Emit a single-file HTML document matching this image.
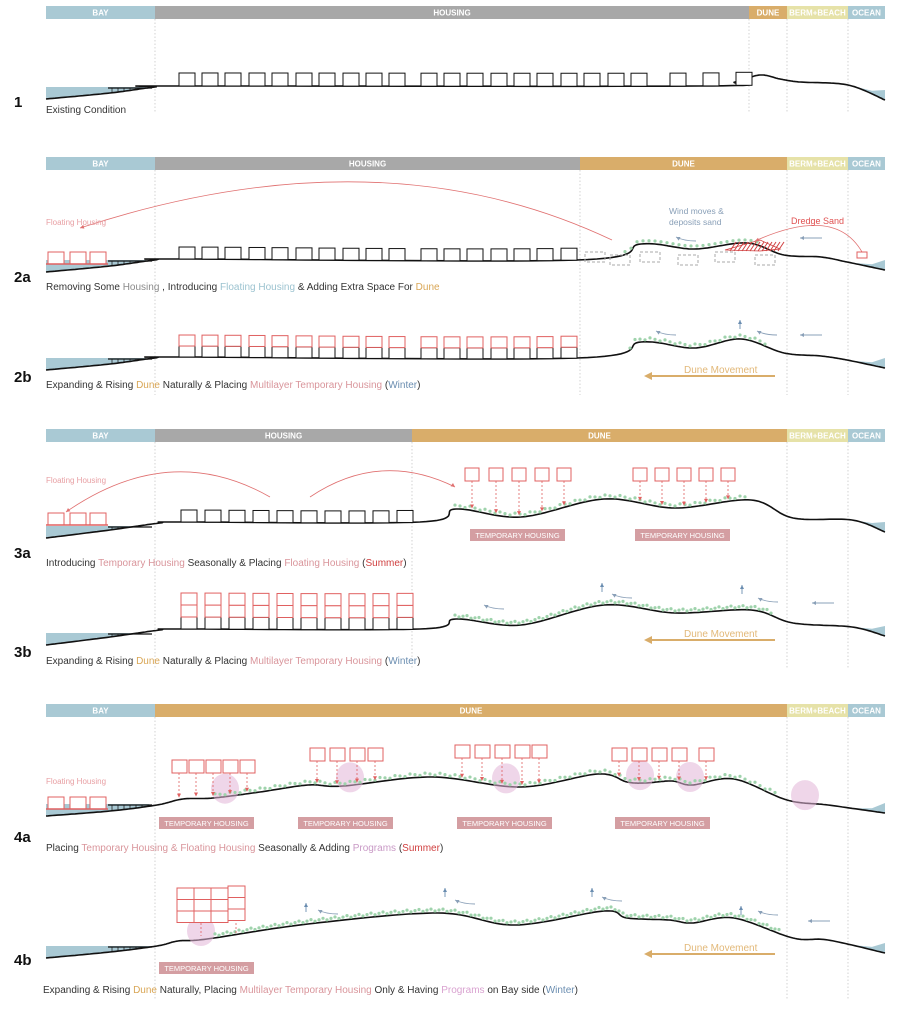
<!DOCTYPE html>
<html><head><meta charset="utf-8">
<style>
body{margin:0;background:#fff;}
svg{display:block;font-family:"Liberation Sans",sans-serif;}
.hd{fill:#fff;font-size:8px;font-weight:bold;text-anchor:middle;}
.cap{font-size:10px;fill:#333;}
.num{font-size:15px;font-weight:bold;fill:#111;}
.tl{fill:#fff;font-size:7.5px;text-anchor:middle;}
</style></head><body>
<svg id="c" width="914" height="1021" viewBox="0 0 914 1021"></svg>
<script>
// profiles: [x, y]
const p1=[[46,99],[110,93],[155,87],[180,86],[700,86],[735,82],[760,75],[780,79],[800,82],[848,85],[885,100]];
const p2a=[[46,272],[110,266],[155,260],[180,259],[577,260],[641,244],[694,249],[747,243],[784,255],[821,257],[847,262],[885,270]];
const p2b=[[46,370],[110,364],[155,358],[180,357],[577,358],[641,342],[694,348],[741,339],[784,353],[821,356],[847,360],[885,368]];
const p3a=[[46,538],[110,530],[160,523],[180,522],[420,522],[456,509],[521,517],[604,499],[675,508],[751,500],[793,518],[852,520],[885,532]];
const p3b=[[46,645],[110,637],[160,630],[180,629],[420,629],[456,619],[521,625],[604,605],[675,613],[751,610],[793,623],[852,627],[885,636]];
const p4a=[[46,816],[110,811],[157,805],[183,799],[213,798],[260,792],[308,785],[343,786],[432,777],[521,787],[598,774],[627,782],[645,783],[672,781],[692,785],[734,779],[787,800],[828,805],[885,813]];
const p4b=[[46,958],[110,952],[157,946],[178,941],[207,939],[308,924],[438,913],[515,925],[604,911],[627,918],[669,920],[692,923],[734,918],[793,938],[828,940],[885,953]];
// zone headers: [label, x0, x1, color]
const hdr1=[["BAY",46,155,"#a9c9d4"],["HOUSING",155,749,"#a8a8a8"],["DUNE",749,787,"#d9ad6a"],["BERM+BEACH",787,848,"#e6e2a8"],["OCEAN",848,885,"#a9c9d4"]];
const hdr2=[["BAY",46,155,"#a9c9d4"],["HOUSING",155,580,"#a8a8a8"],["DUNE",580,787,"#d9ad6a"],["BERM+BEACH",787,848,"#e6e2a8"],["OCEAN",848,885,"#a9c9d4"]];
const hdr3=[["BAY",46,155,"#a9c9d4"],["HOUSING",155,412,"#a8a8a8"],["DUNE",412,787,"#d9ad6a"],["BERM+BEACH",787,848,"#e6e2a8"],["OCEAN",848,885,"#a9c9d4"]];
const hdr4=[["BAY",46,155,"#a9c9d4"],["DUNE",155,787,"#d9ad6a"],["BERM+BEACH",787,848,"#e6e2a8"],["OCEAN",848,885,"#a9c9d4"]];
// house x positions
const houses1=[179,202,225,249,272,296,319,343,366,389,421,444,467,491,514,537,561,584,608,631,670,703,736];
const houses2=[179,202,225,249,272,296,319,343,366,389,421,444,467,491,514,537,561];
const ghost2=[585,610,640,678,715,755];
const houses3=[181,205,229,253,277,301,325,349,373,397];
const temp3=[465,489,512,535,557,633,655,677,699,721];
const temp4=[172,189,206,223,240,310,330,350,368,455,475,495,515,532,612,632,652,672,699];
const tempY4=[760,760,760,760,760,748,748,748,748,745,745,745,745,745,748,748,748,748,748];
const circles4=[225,350,506,640,690,805];

const S="http://www.w3.org/2000/svg", svg=document.getElementById('c');
function el(t,a,p){const e=document.createElementNS(S,t);for(const k in a)e.setAttribute(k,a[k]);(p||svg).appendChild(e);return e;}
function spline(pts){const out=[];for(let i=0;i<pts.length-1;i++){const p0=pts[Math.max(0,i-1)],p1_=pts[i],p2=pts[i+1],p3=pts[Math.min(pts.length-1,i+2)];
 for(let t=0;t<1;t+=0.05){const t2=t*t,t3=t2*t;
 const f=(a,b,c,d)=>0.5*((2*b)+(-a+c)*t+(2*a-5*b+4*c-d)*t2+(-a+3*b-3*c+d)*t3);
 out.push([f(p0[0],p1_[0],p2[0],p3[0]),f(p0[1],p1_[1],p2[1],p3[1])]);}}
 out.push(pts[pts.length-1]);return out;}
function yAt(s,x){for(let i=0;i<s.length-1;i++){if(s[i][0]<=x&&s[i+1][0]>=x){const r=(x-s[i][0])/((s[i+1][0]-s[i][0])||1);return s[i][1]+r*(s[i+1][1]-s[i][1]);}}return s[s.length-1][1];}
function ptsStr(a){return a.map(p=>p[0].toFixed(1)+","+p[1].toFixed(1)).join(" ");}

function header(h,y){h.forEach(z=>{
 const r=el('rect',{x:z[1],y:y,width:z[2]-z[1],height:13,fill:z[3]});
 
 
 const t=el('text',{x:(z[1]+z[2])/2,y:y+9.5,class:'hd'});t.textContent=z[0];
 
 });}
function dividers(xs,y0,y1){xs.forEach(x=>{const l=el('line',{x1:x,y1:y0,x2:x,y2:y1,stroke:'#c8c8c8','stroke-width':0.8,'stroke-dasharray':'1.5,2'});
 
 });}
function ground(p,name){
 const s=spline(p);
 const g0=s[0][1], wl=g0-12;
 const bay=s.filter(q=>q[0]<=150&&q[1]>=wl+1);
 const w=el('polygon',{points:ptsStr([[46,wl]].concat(bay).concat([[bay[bay.length-1][0],wl]])),fill:'#a9c9d4'});
 
 
 const oc=s.filter(q=>q[0]>=850);
 const oy=yAt(s,885);
 const o=el('polygon',{points:ptsStr(oc.concat([[885,oy-10],[872,yAt(s,872)-3]])),fill:'#a9c9d4'});
 
 
 const py=wl+1;
 el('line',{x1:108,y1:py,x2:152,y2:py,stroke:'#111','stroke-width':1.2});
 for(let x=112;x<150;x+=6)el('line',{x1:x,y1:py,x2:x,y2:Math.max(py,Math.min(yAt(s,x),py+5)),stroke:'#111','stroke-width':0.7});
 const l=el('polyline',{points:ptsStr(s),fill:'none',stroke:'#111','stroke-width':1.6});
 
 
 return s;}
function house(x,y,w,h,col,name){const r=el('rect',{x:x,y:y,width:w,height:h,fill:'#fff',stroke:col,'stroke-width':1});
 
 return r;}
function grass(s,x0,x1,dense){for(let x=x0;x<x1;x+=dense){const y=yAt(s,x);
 const c=el('circle',{cx:x,cy:y-2-((x*7)%3),r:1.6,fill:'#9fd3ac'});
 }}
function text(x,y,str,cls,fill,name,size){const t=el('text',{x:x,y:y,class:cls||'',fill:fill||'#333'});if(size)t.setAttribute('font-size',size);t.textContent=str;
 
 return t;}
function caption(x,y,parts,name){const t=el('text',{x:x,y:y,class:'cap'});
 parts.forEach(p=>{const sp=el('tspan',{fill:p[1]||'#333'},t);sp.textContent=p[0];});
 
 }
function tlabel(x0,x1,y,name){const r=el('rect',{x:x0,y:y,width:x1-x0,height:12,fill:'#d49ea2'});
 
 
 const t=el('text',{x:(x0+x1)/2,y:y+9,class:'tl'});t.textContent='TEMPORARY HOUSING';}
function arc(d,col,name,w){const p=el('path',{d:d,fill:'none',stroke:col,'stroke-width':w||0.8});
 
 }
function head(x,y,dx,dy,col){const L=Math.hypot(dx,dy),ux=dx/L,uy=dy/L;
 el('polygon',{points:ptsStr([[x,y],[x-ux*4-uy*2,y-uy*4+ux*2],[x-ux*4+uy*2,y-uy*4-ux*2]]),fill:col});}
function wind(x,y){arc(`M${x+20} ${y+2} Q${x+8} ${y+2} ${x} ${y-2}`,'#8aa0b8','wind-arrow',0.9);head(x,y-2,-8,-4,'#8aa0b8');}
function wind2(x,y){arc(`M${x+22} ${y} L${x} ${y}`,'#8aa0b8','wind-arrow',0.9);head(x,y,-1,0,'#8aa0b8');}
function up(x,y){arc(`M${x} ${y+9} L${x} ${y}`,'#6a8db0','rise-arrow',0.9);head(x,y,0,-1,'#6a8db0');}
function duneMove(y){arc(`M775 ${y} L650 ${y}`,'#d9ad6a','dune-movement-arrow',2);
 el('polygon',{points:`644,${y} 652,${y-4} 652,${y+4}`,fill:'#d9ad6a'});
 text(684,y-3,'Dune Movement','', '#e2b878','dune-movement-label',10);}
function floating(s,y){[48,70,90].forEach(x=>house(x,y,16,12,'#e06060','floating-house'));
 el('line',{x1:46,y1:y+12,x2:108,y2:y+12,stroke:'#e06060','stroke-width':1.5});}

// ===== Panel 1
header(hdr1,6);dividers([155,749,787,848],19,112);
let s=ground(p1,'ground-profile-1');
houses1.forEach((x,i)=>{const y=yAt(s,x+8);house(x,y-13,16,13,'#111','existing-house');});
text(14,107,'1','num','#111','step-1-label');
caption(46,113,[["Existing Condition"]],'caption-1');

// ===== Panel 2a
header(hdr2,157);dividers([155,580,787,848],170,395);
s=ground(p2a,'ground-profile-2a');
houses2.forEach(x=>house(x,yAt(s,x+8)-12,16,12,'#111','existing-house'));
ghost2.forEach((x,i)=>{const r=house(x,252+(i%2)*3,20,10,'#aaa','removed-house');r.setAttribute('stroke-dasharray','3,2');r.setAttribute('fill','none');});
grass(s,625,760,6);
floating(s,252);
el('polygon',{points:'725,250 760,240 780,249 760,251',fill:'none',stroke:'#d04040','stroke-width':0.8});
for(let x=730;x<780;x+=4)el('line',{x1:x,y1:251,x2:x+6,y2:242,stroke:'#d04040','stroke-width':1});
arc('M612 240 Q380 130 80 228','#e07070','floating-housing-arrow');head(80,228,-6,2,'#e07070');
arc('M862 252 Q835 205 755 241','#e07070','dredge-arrow');head(755,241,-5,2,'#e07070');
el('rect',{x:857,y:252,width:10,height:6,fill:'none',stroke:'#e06060','stroke-width':1});
text(46,225,'Floating Housing','','#e8a0a4','floating-housing-label',8);
text(669,214,'Wind moves &','','#8aa0b8','wind-label',8.5);
text(669,225,'deposits sand','','#8aa0b8','wind-label',8.5);
text(791,224,'Dredge Sand','','#e05050','dredge-label',9);
wind(676,239);wind2(800,238);
text(14,282,'2a','num','#111','step-2a-label');
caption(46,290,[["Removing Some "],["Housing","#8a8a8a"],[" , Introducing "],["Floating Housing","#9cc3d0"],[" & Adding Extra Space For "],["Dune","#d9a655"]],'caption-2a');

// ===== Panel 2b
s=ground(p2b,'ground-profile-2b');
houses2.forEach(x=>{const y=yAt(s,x+8);house(x,y-11,16,11,'#111','existing-house');house(x,y-22,16,11,'#e06060','temporary-house');});
grass(s,630,770,5);
wind(656,333);up(740,320);wind(757,333);wind2(800,335);
duneMove(376);
text(14,382,'2b','num','#111','step-2b-label');
caption(46,388,[["Expanding & Rising "],["Dune","#d9a655"],[" Naturally & Placing "],["Multilayer Temporary Housing","#d9959b"],[" ("],["Winter","#6a8db0"],[")"]],'caption-2b');

// ===== Panel 3a
header(hdr3,429);dividers([155,412,787,848],442,668);
s=ground(p3a,'ground-profile-3a');
houses3.forEach(x=>house(x,yAt(s,x+8)-12,16,12,'#111','existing-house'));
grass(s,455,750,5);
temp3.forEach(x=>{house(x,468,14,13,'#e06060','temporary-house');
 const gy=yAt(s,x+7);el('line',{x1:x+7,y1:481,x2:x+7,y2:gy-3,stroke:'#e06060','stroke-width':0.8,'stroke-dasharray':'2,2'});head(x+7,gy-2,0,1,'#e06060');});
floating(s,513);
arc('M270 497 Q170 440 66 512','#e07070','floating-housing-arrow');head(66,512,-4,3,'#e07070');
arc('M310 497 Q380 450 455 487','#e07070','temporary-housing-arrow');head(455,487,4,3,'#e07070');
text(46,483,'Floating Housing','','#e8a0a4','floating-housing-label',8);
tlabel(470,565,529,'temporary-housing-tag');tlabel(635,730,529,'temporary-housing-tag');
text(14,558,'3a','num','#111','step-3a-label');
caption(46,566,[["Introducing "],["Temporary Housing","#d9959b"],[" Seasonally & Placing "],["Floating Housing","#d9959b"],[" ("],["Summer","#d04040"],[")"]],'caption-3a');

// ===== Panel 3b
s=ground(p3b,'ground-profile-3b');
houses3.forEach(x=>{const y=yAt(s,x+8);house(x,y-12,16,12,'#111','existing-house');house(x,y-24,16,12,'#e06060','temporary-house');house(x,y-36,16,12,'#e06060','temporary-house');});
grass(s,455,775,4);
wind(484,607);up(602,583);wind(612,596);up(742,585);wind(758,600);wind2(812,603);
duneMove(640);
text(14,657,'3b','num','#111','step-3b-label');
caption(46,664,[["Expanding & Rising "],["Dune","#d9a655"],[" Naturally & Placing "],["Multilayer Temporary Housing","#d9959b"],[" ("],["Winter","#6a8db0"],[")"]],'caption-3b');

// ===== Panel 4a
header(hdr4,704);dividers([155,787,848],717,1000);
s=ground(p4a,'ground-profile-4a');
circles4.forEach(x=>{const c=el('ellipse',{cx:x,cy:yAt(s,x)-8,rx:14,ry:15,fill:'rgba(225,180,215,0.55)'});
 
 });
grass(s,215,780,5);
temp4.forEach((x,i)=>{const ty=tempY4[i];house(x,ty,15,13,'#e06060','temporary-house');
 const gy=yAt(s,x+7);el('line',{x1:x+7,y1:ty+13,x2:x+7,y2:gy-3,stroke:'#e06060','stroke-width':0.8,'stroke-dasharray':'2,2'});head(x+7,gy-2,0,1,'#e06060');});
floating(s,797);
text(46,784,'Floating Housing','','#e8a0a4','floating-housing-label',8);
tlabel(159,254,817,'temporary-housing-tag');tlabel(298,393,817,'temporary-housing-tag');tlabel(457,552,817,'temporary-housing-tag');tlabel(615,710,817,'temporary-housing-tag');
text(14,842,'4a','num','#111','step-4a-label');
caption(46,851,[["Placing "],["Temporary Housing & Floating Housing","#d9959b"],[" Seasonally & Adding "],["Programs","#c99ac6"],[" ("],["Summer","#d04040"],[")"]],'caption-4a');

// ===== Panel 4b
s=ground(p4b,'ground-profile-4b');
{const c=el('ellipse',{cx:201,cy:931,rx:14,ry:15,fill:'rgba(225,180,215,0.55)'});
 
 }
grass(s,215,780,4);
[[177,888],[194,888],[211,888],[228,886]].forEach((p,ci)=>{for(let r=0;r<3;r++)house(p[0],p[1]+r*11.5,17,11.5,'#e06060','multilayer-temporary-house');});
el('line',{x1:201,y1:923,x2:201,y2:936,stroke:'#e06060','stroke-dasharray':'2,2','stroke-width':0.8});
el('line',{x1:236,y1:923,x2:236,y2:934,stroke:'#e06060','stroke-dasharray':'2,2','stroke-width':0.8});
up(306,903);wind(318,912);up(445,888);wind(455,902);up(592,888);wind(602,899);up(741,906);wind(758,913);wind2(808,921);
duneMove(954);
tlabel(159,254,962,'temporary-housing-tag');
text(14,965,'4b','num','#111','step-4b-label');
caption(43,993,[["Expanding & Rising "],["Dune","#d9a655"],[" Naturally, Placing "],["Multilayer Temporary Housing","#d9959b"],[" Only & Having "],["Programs","#d9a2d0"],[" on Bay side ("],["Winter","#6a8db0"],[")"]],'caption-4b');
</script>
</body></html>
